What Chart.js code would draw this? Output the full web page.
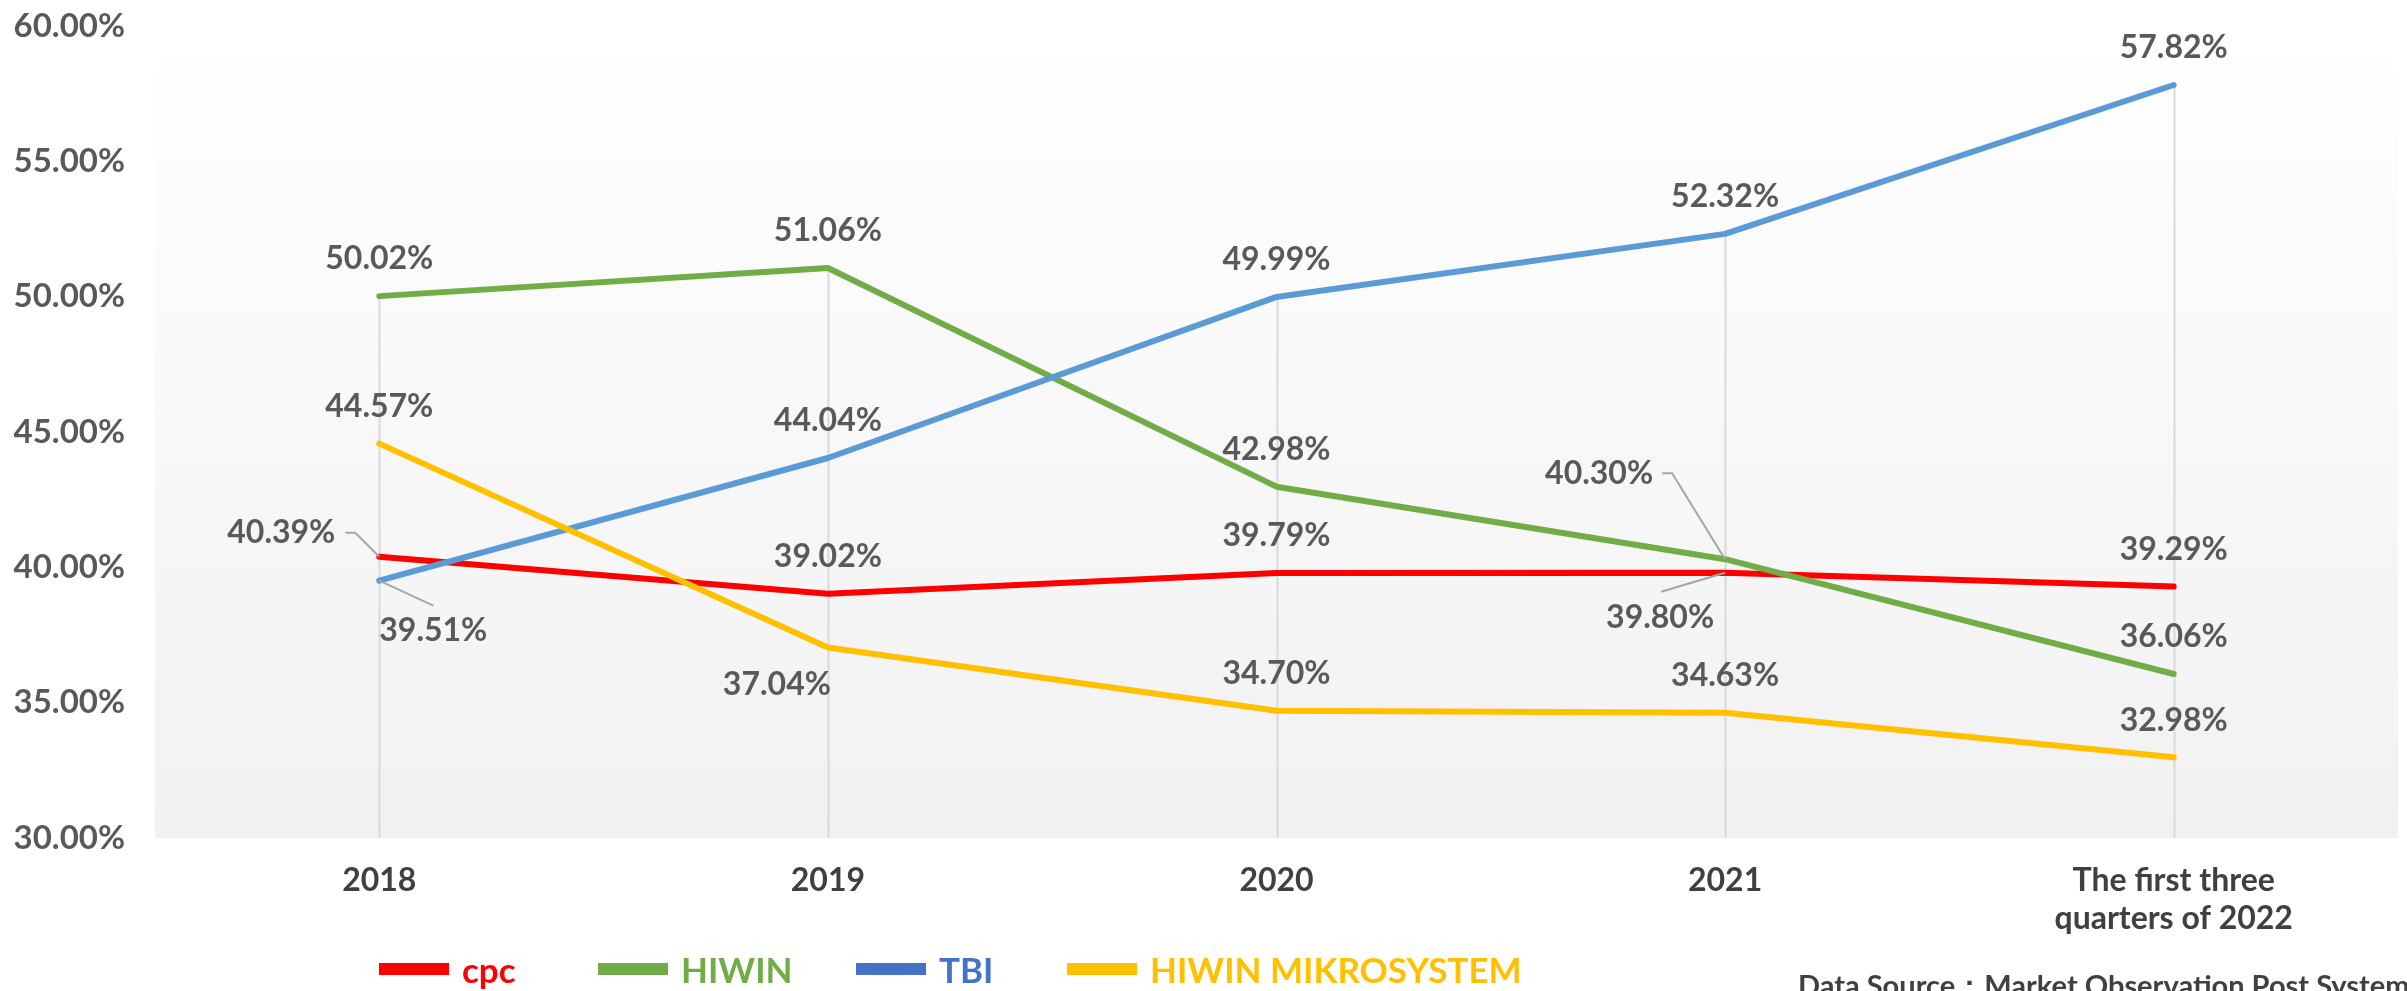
<!DOCTYPE html>
<html>
<head>
<meta charset="utf-8">
<title>Gross margin comparison</title>
<script src="https://cdn.jsdelivr.net/npm/chart.js@4.4.0/dist/chart.umd.min.js"></script>
<style>
  body { margin: 0; background: #fff; }
  #wrap { position: relative; width: 2407px; height: 991px; overflow: hidden; font-family: Lato, 'Open Sans', sans-serif; }
  #myChart { position: absolute; left: 0; top: 0; }
  .legendItem { position: absolute; top: 949px; height: 40px; display: flex; align-items: center; font-weight: bold; font-size: 35px; white-space: nowrap; }
  .legendItem .sw { display: inline-block; width: 70px; height: 12px; margin-right: 13px; }
  #source { position: absolute; left: 1798px; top: 967px; font-size: 29px; font-weight: bold; color: #404040; white-space: nowrap; }
</style>
</head>
<body>
<div id="wrap">
  <canvas id="myChart" width="2407" height="991"></canvas>
  <div id="legend"></div>
  <div id="source">Data Source：Market Observation Post System</div>
</div>
<script>
'use strict';

let periods = ['2018', '2019', '2020', '2021', ['The first three', 'quarters of 2022']];
let seriesNames = ['cpc', 'HIWIN', 'TBI', 'HIWIN MIKROSYSTEM'];
let cpcMargin = [40.39, 39.02, 39.79, 39.80, 39.29];
let hiwinMargin = [50.02, 51.06, 42.98, 40.30, 36.06];
let tbiMargin = [39.51, 44.04, 49.99, 52.32, 57.82];
let mikroMargin = [44.57, 37.04, 34.70, 34.63, 32.98];
let yMin = 30;
let yMax = 60;
let yStep = 5;

let lineColors = ['#ff0000', '#70ad47', '#5b9bd5', '#ffc000'];
let legendColors = ['#ff0000', '#70ad47', '#4472c4', '#ffc000'];
let legendLeft = [379, 598, 856, 1067];

// labels that are not simply centred above their point (offsets in px from the point)
let labelSpots = [
  { set: 0, at: 0, dx: -98, dy: -24, leader: [[-34, -24], [-24, -24]] },
  { set: 2, at: 0, dx: 54, dy: 50, leader: [[54, 25]] },
  { set: 0, at: 3, dx: -65, dy: 45, leader: [[-64, 19]] },
  { set: 1, at: 3, dx: -126, dy: -86, leader: [[-63, -86], [-53, -86]] },
  { set: 3, at: 1, dx: -51, dy: 37 }
];

let seriesData = [cpcMargin, hiwinMargin, tbiMargin, mikroMargin];

// soft grey gradient behind the plot
let plotBg = {
  id: 'plotBg',
  beforeDraw(chart) {
    let ctx = chart.ctx;
    let a = chart.chartArea;
    let grad = ctx.createLinearGradient(0, a.top, 0, a.bottom);
    grad.addColorStop(0, '#ffffff');
    grad.addColorStop(1, '#f1f1f1');
    ctx.save();
    ctx.fillStyle = grad;
    ctx.fillRect(a.left, a.top, a.right - a.left, a.bottom - a.top);
    ctx.restore();
  }
};

// drop lines from the highest point of each category down to the axis
let dropLines = {
  id: 'dropLines',
  beforeDatasetsDraw(chart) {
    let ctx = chart.ctx;
    let xs = chart.scales.x;
    let ys = chart.scales.y;
    ctx.save();
    ctx.strokeStyle = '#d9d9d9';
    ctx.lineWidth = 2;
    for (let i = 0; i < periods.length; i++) {
      let top = Math.max(...seriesData.map(s => s[i]));
      let x = Math.round(xs.getPixelForValue(i)) + 0.5;
      ctx.beginPath();
      ctx.moveTo(x, ys.getPixelForValue(top));
      ctx.lineTo(x, chart.chartArea.bottom);
      ctx.stroke();
    }
    ctx.restore();
  }
};

let valueLabels = {
  id: 'valueLabels',
  afterDatasetsDraw(chart) {
    let ctx = chart.ctx;
    ctx.save();
    ctx.font = 'bold 32px Lato, sans-serif';
    ctx.fillStyle = '#595959';
    ctx.textAlign = 'center';
    ctx.textBaseline = 'middle';
    chart.data.datasets.forEach((ds, d) => {
      let meta = chart.getDatasetMeta(d);
      meta.data.forEach((pt, i) => {
        let spot = labelSpots.find(s => s.set === d && s.at === i) || { dx: 0, dy: -37 };
        if (spot.leader) {
          ctx.strokeStyle = '#a6a6a6';
          ctx.lineWidth = 2;
          ctx.beginPath();
          ctx.moveTo(pt.x + spot.leader[0][0], pt.y + spot.leader[0][1]);
          for (let k = 1; k < spot.leader.length; k++) {
            ctx.lineTo(pt.x + spot.leader[k][0], pt.y + spot.leader[k][1]);
          }
          ctx.lineTo(pt.x, pt.y);
          ctx.stroke();
        }
        ctx.fillText(ds.data[i].toFixed(2) + '%', pt.x + spot.dx, pt.y + spot.dy);
      });
    });
    ctx.restore();
  }
};

let datasets = [];
for (let i = 0; i < seriesNames.length; i++) {
  datasets.push({
    label: seriesNames[i],
    data: seriesData[i],
    borderColor: lineColors[i],
    backgroundColor: lineColors[i],
    borderWidth: 6,
    pointRadius: 0,
    pointHoverRadius: 0,
    tension: 0,
    borderCapStyle: 'round',
    borderJoinStyle: 'round',
    order: seriesNames.length - i
  });
}

let ctx = document.getElementById('myChart').getContext('2d');
let myChart = new Chart(ctx, {
  type: 'line',
  data: {
    labels: periods,
    datasets: datasets
  },
  options: {
    responsive: false,
    animation: false,
    devicePixelRatio: 1,
    layout: { padding: { top: 26, right: 9, left: 0, bottom: 0 } },
    plugins: {
      legend: { display: false },
      tooltip: { enabled: false }
    },
    scales: {
      x: {
        offset: true,
        grid: { display: false, drawTicks: false },
        border: { display: false },
        ticks: {
          color: '#404040',
          padding: 23,
          font: { family: 'Lato, sans-serif', size: 32, weight: 'bold' }
        },
        afterFit: function (scale) { scale.height = 153; }
      },
      y: {
        min: yMin,
        max: yMax,
        grid: { display: false, drawTicks: false },
        border: { display: false },
        ticks: {
          stepSize: yStep,
          color: '#595959',
          padding: 30,
          font: { family: 'Lato, sans-serif', size: 33, weight: 'bold' },
          callback: function (v) { return v.toFixed(2) + '%'; }
        },
        afterFit: function (scale) {
          scale.width = 155;
          scale.paddingTop = 20;
          scale.paddingBottom = 20;
        }
      }
    }
  },
  plugins: [plotBg, dropLines, valueLabels]
});

// legend below the plot
let legendEl = document.getElementById('legend');
for (let i = 0; i < seriesNames.length; i++) {
  let item = document.createElement('div');
  item.className = 'legendItem';
  item.style.left = legendLeft[i] + 'px';
  item.style.color = legendColors[i];
  let sw = document.createElement('span');
  sw.className = 'sw';
  sw.style.background = legendColors[i];
  item.appendChild(sw);
  let txt = document.createElement('span');
  txt.textContent = seriesNames[i];
  item.appendChild(txt);
  legendEl.appendChild(item);
}
</script>
</body>
</html>
